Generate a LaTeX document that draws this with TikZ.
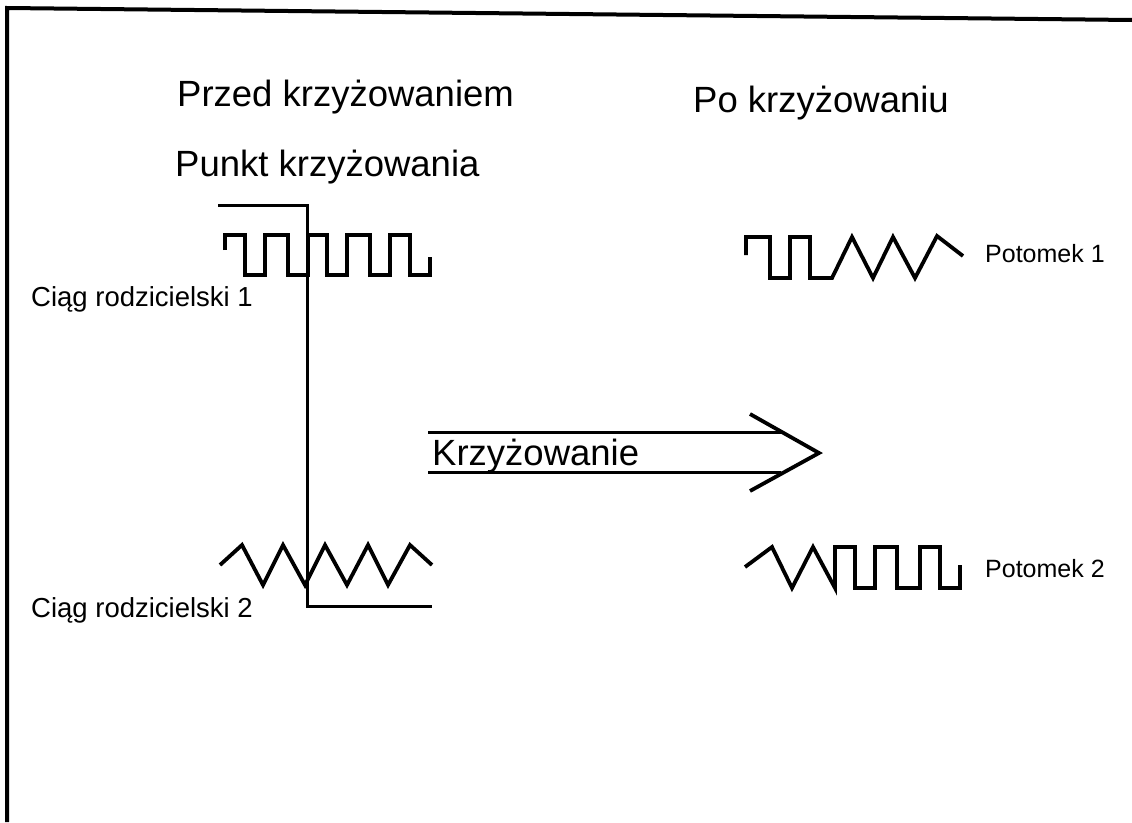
\documentclass[tikz,border=0pt]{standalone}
\usepackage{fontspec}
\setmainfont{Liberation Sans}
\usepackage{tikz}
\usetikzlibrary{positioning}

\begin{document}
\begin{tikzpicture}[
    x=1pt, y=-1pt,
    title/.style={anchor=base west, inner sep=0pt, font=\fontsize{36.5}{40}\selectfont},
    label/.style={anchor=base west, inner sep=0pt, font=\fontsize{27.5}{30}\selectfont},
    tag/.style={anchor=base west, inner sep=0pt, font=\fontsize{25}{28}\selectfont},
    wave/.style={line width=3.8pt, line join=miter},
    rule/.style={line width=3pt}
]
    \useasboundingbox (0,0) rectangle (1132,822);

    % ramka
    \draw[line width=4pt] (7,822) -- (7,8) -- (1132,20);

    % napisy
    \node[title] (przed) at (177,106) {Przed krzyżowaniem};
    \node[title] (po) at (693,112) {Po krzyżowaniu};
    \node[title] (punkt) at (175,176) {Punkt krzyżowania};
    \node[label] (rodzic1) at (31,306) {Ciąg rodzicielski 1};
    \node[label] (rodzic2) at (31,617) {Ciąg rodzicielski 2};
    \node[tag] (potomek1) at (985,262) {Potomek 1};
    \node[tag] (potomek2) at (985,577) {Potomek 2};

    % punkt krzyzowania
    \coordinate (cut top) at (307,205);
    \coordinate (cut bottom) at (307,606);
    \draw[rule] (218,205) -- (cut top) -- (cut bottom) -- (432,606);

    % ciag rodzicielski 1
    \draw[wave] (225,250) -- (225,235) -- (245,235) -- (245,275) -- (265,275)
        -- (265,235) -- (288,235) -- (288,275) -- (308,275) -- (308,235)
        -- (327,235) -- (327,275) -- (347,275) -- (347,235) -- (370,235)
        -- (370,275) -- (390,275) -- (390,235) -- (410,235) -- (410,275)
        -- (430,275) -- (430,257);

    % ciag rodzicielski 2
    \draw[wave] (220,565) -- (242,545) -- (263,585) -- (283,545) -- (305,585)
        -- (325,545) -- (347,585) -- (368,545) -- (388,585) -- (410,545)
        -- (432,565);

    % potomek 1
    \draw[wave] (746,255) -- (746,237) -- (770,237) -- (770,278) -- (790,278)
        -- (790,237) -- (810,237) -- (810,278) -- (832,278) -- (852,237)
        -- (873,278) -- (893,237) -- (915,278) -- (937,236) -- (963,256);

    % potomek 2
    \draw[wave] (745,567) -- (772,547) -- (792,588) -- (813,547) -- (835,588)
        -- (835,547) -- (855,547) -- (855,588) -- (875,588) -- (875,547)
        -- (897,547) -- (897,588) -- (920,588) -- (920,547) -- (940,547)
        -- (940,588) -- (960,588) -- (960,565);

    % strzalka
    \coordinate (tip) at (819,453);
    \draw[rule] (428,432) -- (781,432);
    \draw[rule] (428,472) -- (781,472);
    \draw[line width=3.8pt] (750,414) -- (tip) -- (750,491);
    \node[title, anchor=base west] (krzyz) at (432,465) {Krzyżowanie};
\end{tikzpicture}
\end{document}
